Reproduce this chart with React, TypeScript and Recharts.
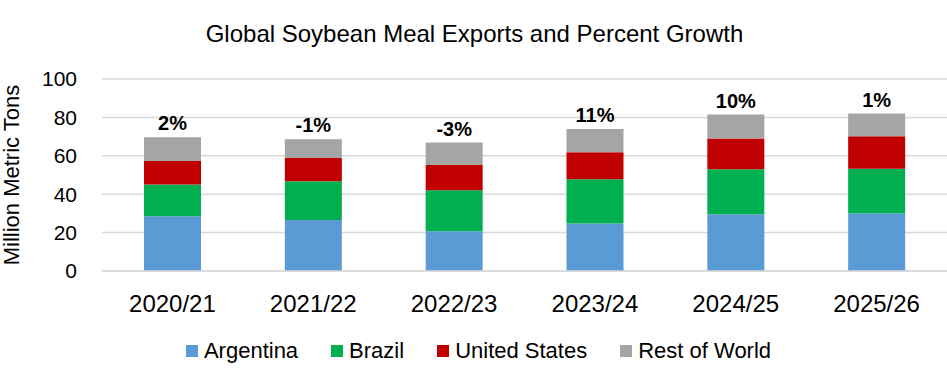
import { BarChart, Bar, XAxis, YAxis, CartesianGrid, Legend, LabelList } from 'recharts';

const years = ['2020/21', '2021/22', '2022/23', '2023/24', '2024/25', '2025/26'];
const argentina = [28.5, 26.6, 20.7, 24.8, 29.5, 30.0];
const brazil = [16.5, 20.1, 21.3, 23.0, 23.5, 23.3];
const unitedStates = [12.3, 12.2, 13.2, 14.0, 16.0, 16.9];
const restOfWorld = [12.3, 9.7, 11.7, 12.2, 12.5, 11.8];
const growth = ['2%', '-1%', '-3%', '11%', '10%', '1%'];
const yTicks = [0, 20, 40, 60, 80, 100];

const FONT = '"Liberation Sans", Arial, sans-serif';

const series = [
  { key: 'argentina', name: 'Argentina', color: '#5B9BD5' },
  { key: 'brazil', name: 'Brazil', color: '#00B050' },
  { key: 'us', name: 'United States', color: '#C00000' },
  { key: 'row', name: 'Rest of World', color: '#A5A5A5' },
];

const data = years.map((year, i) => ({
  year,
  argentina: argentina[i],
  brazil: brazil[i],
  us: unitedStates[i],
  row: restOfWorld[i],
  growth: growth[i],
}));

function LegendContent() {
  return (
    <div
      style={{
        height: 30,
        display: 'flex',
        justifyContent: 'center',
        alignItems: 'center',
        paddingLeft: 10,
        fontFamily: FONT,
        fontSize: 22,
        color: '#000',
      }}
    >
      {series.map((s, i) => (
        <div
          key={s.key}
          style={{ display: 'flex', alignItems: 'center', marginLeft: i === 0 ? 0 : 33 }}
        >
          <span style={{ width: 12, height: 12, background: s.color, marginRight: 6, display: 'inline-block' }} />
          <span>{s.name}</span>
        </div>
      ))}
    </div>
  );
}

export default function App() {
  return (
    <div style={{ position: 'absolute', left: 0, top: 0, width: 947, height: 374, background: '#fff' }}>
      <div
        style={{
          position: 'absolute',
          top: 22,
          left: 0,
          width: 949,
          textAlign: 'center',
          fontFamily: FONT,
          fontSize: 24,
          lineHeight: '24px',
          color: '#000',
        }}
      >
        Global Soybean Meal Exports and Percent Growth
      </div>
      <BarChart
        width={947}
        height={374}
        data={data}
        margin={{ top: 79, right: 0, left: 0, bottom: 8 }}
        barSize={57}
      >
        <CartesianGrid vertical={false} stroke="#D9D9D9" strokeWidth={1.5} />
        <XAxis
          dataKey="year"
          axisLine={{ stroke: '#D9D9D9', strokeWidth: 1.5 }}
          tickLine={false}
          tickSize={0}
          tickMargin={24}
          height={65}
          interval={0}
          tick={{ fill: '#000', fontSize: 24, fontFamily: FONT }}
        />
        <YAxis
          width={102}
          domain={[0, 100]}
          ticks={yTicks}
          axisLine={false}
          tickLine={false}
          tickSize={0}
          tickMargin={25}
          tick={{ fill: '#000', fontSize: 21, fontFamily: FONT }}
          label={{
            value: 'Million Metric Tons',
            angle: -90,
            position: 'insideLeft',
            offset: 11,
            fill: '#000',
            fontSize: 22,
            fontFamily: FONT,
            style: { textAnchor: 'middle' },
          }}
        />
        <Legend verticalAlign="bottom" content={<LegendContent />} />
        {series.map((s, i) => (
          <Bar
            key={s.key}
            dataKey={s.key}
            name={s.name}
            stackId="a"
            fill={s.color}
            isAnimationActive={false}
          >
            {i === series.length - 1 && (
              <LabelList
                dataKey="growth"
                position="top"
                offset={7}
                fill="#000"
                fontSize={20}
                fontWeight="bold"
                fontFamily={FONT}
              />
            )}
          </Bar>
        ))}
      </BarChart>
    </div>
  );
}
